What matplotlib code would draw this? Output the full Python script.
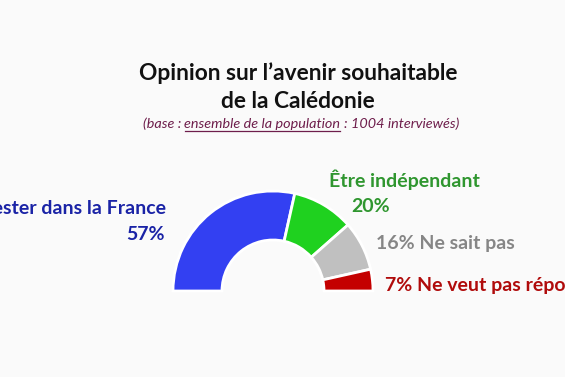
import matplotlib
matplotlib.use("Agg")
import matplotlib.pyplot as plt

labels = ["Rester dans la France", "Être indépendant", "Ne sait pas", "Ne veut pas répondre"]
values = [57, 20, 16, 7]
colors = ["#3340f2", "#1fd11f", "#c0c0c0", "#c40000"]
text_colors = ["#1a23a6", "#2f962f", "#868686", "#b00b0b"]

title_lines = ["Opinion sur l\u2019avenir souhaitable", "de la Calédonie"]
sub_parts = ["(base : ", "ensemble de la population ", ": 1004 interviewés)"]

W, H = 565, 377
bg = "#fafafa"
font = "Lato"


def create_chart():
    fig = plt.figure(figsize=(W / 100, H / 100), dpi=100, facecolor=bg)
    ax = fig.add_axes([0, 0, 1, 1])
    ax.set_facecolor(bg)

    # half donut: add a hidden half so the visible part spans 180 degrees
    wedges, _ = ax.pie(values + [sum(values)], colors=colors + ["none"],
                       startangle=180, counterclock=False,
                       center=(273, H - 291), radius=100,
                       wedgeprops=dict(width=49, edgecolor="white", linewidth=2))
    wedges[-1].set_edgecolor("none")
    ax.set_xlim(0, W)
    ax.set_ylim(0, H)
    ax.axis("off")

    def y(px):
        return H - px

    # titles
    ax.text(298, y(73), title_lines[0], ha="center", va="center",
            fontsize=16.4, fontweight="bold", family=font, color="#111111")
    ax.text(298, y(101), title_lines[1], ha="center", va="center",
            fontsize=16.4, fontweight="bold", family=font, color="#111111")

    # subtitle with underlined middle part
    sub_color = "#6e1d4b"
    kw = dict(fontsize=10.4, style="italic", family=font, color=sub_color, va="center")
    fig.canvas.draw()
    r = fig.canvas.get_renderer()
    pieces = [ax.text(0, y(124), s, ha="left", **kw) for s in sub_parts]
    widths = [p.get_window_extent(r).width for p in pieces]
    x0 = 301 - sum(widths) / 2
    for p, w in zip(pieces, widths):
        p.set_x(x0)
        x0 += w
    ul_x0 = 301 - sum(widths) / 2 + widths[0]
    ax.plot([ul_x0, ul_x0 + widths[1] - 4], [y(131), y(131)], color=sub_color, lw=0.9)

    # segment labels
    lab = dict(fontsize=14, fontweight="bold", family=font)
    ax.text(166, y(208), labels[0], ha="right", va="center", color=text_colors[0], **lab)
    ax.text(165, y(235), f"{values[0]}%", ha="right", va="center", color=text_colors[0], **lab)
    ax.text(329, y(180), labels[1], ha="left", va="center", color=text_colors[1], **lab)
    ax.text(371, y(207), f"{values[1]}%", ha="center", va="center", color=text_colors[1], **lab)
    ax.text(376, y(243), f"{values[2]}% {labels[2]}", ha="left", va="center",
            color=text_colors[2], **lab)
    ax.text(385, y(286), f"{values[3]}% {labels[3]}", ha="left", va="center",
            color=text_colors[3], **lab)

    fig.savefig("out.png", dpi=100, facecolor=bg)


if __name__ == "__main__":
    create_chart()
